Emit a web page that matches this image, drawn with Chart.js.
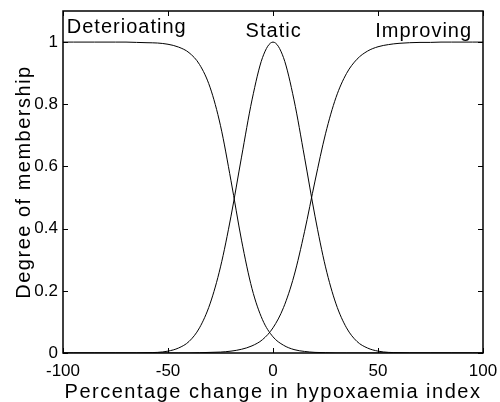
<!DOCTYPE html>
<html>
<head>
<meta charset="utf-8">
<script src="https://cdn.jsdelivr.net/npm/chart.js@4/dist/chart.umd.min.js"></script>
<style>
  html, body { margin: 0; padding: 0; background: #fff; }
  #wrap { width: 500px; height: 402px; }
</style>
</head>
<body>
<div id="wrap"><canvas id="grafico" width="500" height="402"></canvas></div>
<script>
// percentage change (x) and degree of membership for each fuzzy set
const percentChange = [-100, -95, -90, -85, -80, -75, -70, -65, -60, -55, -50, -45, -40, -35, -30, -25, -20, -15, -10, -5,
  0, 5, 10, 15, 20, 25, 30, 35, 40, 45, 50, 55, 60, 65, 70, 75, 80, 85, 90, 95, 100];

const deteriorating = [1, 1, 1, 1, 1, 1, 1, 0.999, 0.998, 0.997, 0.993, 0.984, 0.966, 0.928, 0.855, 0.731, 0.554, 0.363, 0.207, 0.107,
  0.052, 0.025, 0.011, 0.005, 0.002, 0.001, 0, 0, 0, 0, 0, 0, 0, 0, 0, 0, 0, 0, 0, 0, 0];

const staticSet = [0, 0, 0, 0, 0, 0, 0, 0, 0.001, 0.002, 0.006, 0.016, 0.037, 0.081, 0.158, 0.277, 0.44, 0.63, 0.814, 0.95,
  1, 0.95, 0.814, 0.63, 0.44, 0.277, 0.158, 0.081, 0.037, 0.016, 0.006, 0.002, 0.001, 0, 0, 0, 0, 0, 0, 0, 0];

const improving = [0, 0, 0, 0, 0, 0, 0, 0, 0, 0, 0, 0, 0, 0.001, 0.002, 0.003, 0.006, 0.012, 0.023, 0.043,
  0.081, 0.146, 0.248, 0.39, 0.553, 0.705, 0.822, 0.899, 0.945, 0.971, 0.985, 0.992, 0.996, 0.998, 0.999, 0.999, 1, 1, 1, 1, 1];

const xTicks = [-100, -50, 0, 50, 100];
const yTicks = [0, 0.2, 0.4, 0.6, 0.8, 1];

const setNames = ["Deterioating", "Static", "Improving"];
const xTitle = "Percentage change in hypoxaemia index";
const yTitle = "Degree of membership";

// where the set names sit, in data units
const nameAnchors = [
  { x: -98.2, y: 1.028, align: "left" },
  { x: 0.3, y: 1.015, align: "center" },
  { x: 94.8, y: 1.017, align: "right" },
];

const FONTE = '"Liberation Sans", Arial, sans-serif';

const toPoints = (ys) => percentChange.map((x, i) => ({ x: x, y: ys[i] }));

const linha = (ys) => ({
  data: toPoints(ys),
  borderColor: "#000",
  borderWidth: 1,
  pointRadius: 0,
  fill: false,
  cubicInterpolationMode: "monotone",
});

const moldura = {
  id: "moldura",
  afterDatasetsDraw(chart) {
    const { ctx, chartArea: a, scales } = chart;
    const sx = scales.x;
    const sy = scales.y;
    ctx.save();

    ctx.strokeStyle = "#000";
    ctx.lineWidth = 1.5;
    ctx.strokeRect(a.left, a.top, a.right - a.left, a.bottom - a.top);

    // inward ticks on all four sides
    ctx.lineWidth = 1;
    ctx.beginPath();
    sx.ticks.forEach((t) => {
      const px = Math.round(sx.getPixelForValue(t.value)) + 0.5;
      ctx.moveTo(px, a.bottom);
      ctx.lineTo(px, a.bottom - 5);
      ctx.moveTo(px, a.top);
      ctx.lineTo(px, a.top + 5);
    });
    sy.ticks.forEach((t) => {
      const py = Math.round(sy.getPixelForValue(t.value)) + 0.5;
      ctx.moveTo(a.left, py);
      ctx.lineTo(a.left + 5, py);
      ctx.moveTo(a.right, py);
      ctx.lineTo(a.right - 5, py);
    });
    ctx.stroke();

    ctx.fillStyle = "#000";
    ctx.textBaseline = "alphabetic";
    ctx.letterSpacing = "1px";
    ctx.font = "20px " + FONTE;
    setNames.forEach((nome, i) => {
      const p = nameAnchors[i];
      ctx.textAlign = p.align;
      ctx.fillText(nome, sx.getPixelForValue(p.x), sy.getPixelForValue(p.y));
    });

    ctx.letterSpacing = "1.5px";
    ctx.font = "20px " + FONTE;
    ctx.textAlign = "center";
    ctx.fillText(xTitle, (a.left + a.right) / 2, 398);

    ctx.translate(30, (a.top + a.bottom) / 2);
    ctx.rotate(-Math.PI / 2);
    ctx.fillText(yTitle, 0, 0);

    ctx.restore();
  },
};

new Chart(document.getElementById("grafico"), {
  type: "line",
  data: {
    datasets: [linha(deteriorating), linha(staticSet), linha(improving)],
  },
  options: {
    responsive: false,
    animation: false,
    events: [],
    layout: { padding: { left: 0, top: 11, right: 17, bottom: 0 } },
    plugins: { legend: { display: false }, tooltip: { enabled: false } },
    scales: {
      x: {
        type: "linear",
        min: -100,
        max: 100,
        afterBuildTicks: (s) => { s.ticks = xTicks.map((v) => ({ value: v })); },
        afterFit: (s) => {
          s.height = 49;
          s.paddingLeft = 0;
          s.paddingRight = 0;
        },
        grid: { display: false, drawTicks: false },
        border: { display: false },
        ticks: {
          padding: 8,
          maxRotation: 0,
          color: "#000",
          font: { family: FONTE, size: 17 },
          callback: (v) => String(v),
        },
      },
      y: {
        type: "linear",
        min: 0,
        max: 1.1,
        afterBuildTicks: (s) => { s.ticks = yTicks.map((v) => ({ value: v })); },
        afterFit: (s) => {
          s.width = 63;
          s.paddingTop = 0;
          s.paddingBottom = 0;
        },
        grid: { display: false, drawTicks: false },
        border: { display: false },
        ticks: {
          padding: 5,
          color: "#000",
          font: { family: FONTE, size: 17 },
          callback: (v) => String(Math.round(v * 10) / 10),
        },
      },
    },
  },
  plugins: [moldura],
});
</script>
</body>
</html>
